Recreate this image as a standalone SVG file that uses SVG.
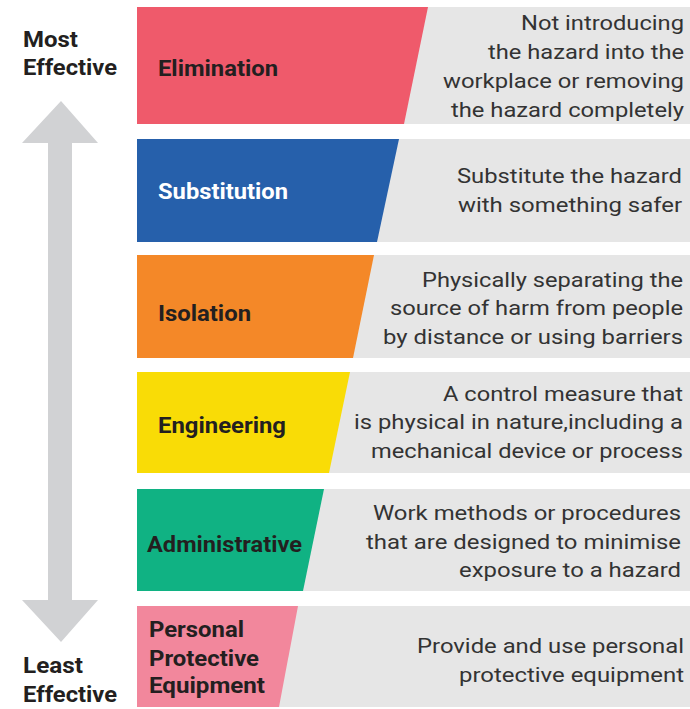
<svg xmlns="http://www.w3.org/2000/svg" width="690" height="709" viewBox="0 0 690 709">
<style>
.bg{fill:#e6e6e6}
.lbl{font-family:Roboto,"Liberation Sans",sans-serif;font-weight:bold;font-size:22px;fill:#231f20}
.desc{font-family:Roboto,"Liberation Sans",sans-serif;font-size:21px;fill:#333}
.side{font-family:Roboto,"Liberation Sans",sans-serif;font-weight:bold;font-size:22px;fill:#231f20}
</style>
<rect width="690" height="709" fill="#fff"/>
<g id="arrow">
<path d="M61,101 L98,143 L72,143 L72,600 L98,600 L61,642 L22,600 L48,600 L48,143 L22,143 Z" fill="#d1d2d4"/>
</g>
<g id="side-labels">
<text class="side" x="23" y="47" textLength="55" lengthAdjust="spacingAndGlyphs">Most</text>
<text class="side" x="23" y="75" textLength="94" lengthAdjust="spacingAndGlyphs">Effective</text>
<text class="side" x="23" y="673" textLength="60" lengthAdjust="spacingAndGlyphs">Least</text>
<text class="side" x="23" y="702" textLength="94" lengthAdjust="spacingAndGlyphs">Effective</text>
</g>
<g id="elimination">
<rect class="bg" x="137" y="7" width="553" height="117"/>
<polygon points="137,7 428,7 404,124 137,124" fill="#ef5a6b"/>
<text class="lbl" x="158" y="76" textLength="120" lengthAdjust="spacingAndGlyphs">Elimination</text>
<text class="desc" x="521" y="30" textLength="163" lengthAdjust="spacingAndGlyphs">Not introducing</text>
<text class="desc" x="488" y="59" textLength="196" lengthAdjust="spacingAndGlyphs">the hazard into the</text>
<text class="desc" x="443" y="88" textLength="241" lengthAdjust="spacingAndGlyphs">workplace or removing</text>
<text class="desc" x="451" y="117" textLength="233" lengthAdjust="spacingAndGlyphs">the hazard completely</text>
</g>
<g id="substitution">
<rect class="bg" x="137" y="139" width="553" height="103"/>
<polygon points="137,139 399,139 377,242 137,242" fill="#2660ab"/>
<text class="lbl" x="158" y="199" style="fill:#fff" textLength="130" lengthAdjust="spacingAndGlyphs">Substitution</text>
<text class="desc" x="457" y="183" textLength="225" lengthAdjust="spacingAndGlyphs">Substitute the hazard</text>
<text class="desc" x="458" y="212" textLength="224" lengthAdjust="spacingAndGlyphs">with something safer</text>
</g>
<g id="isolation">
<rect class="bg" x="137" y="255" width="553" height="103"/>
<polygon points="137,255 374,255 353,358 137,358" fill="#f48828"/>
<text class="lbl" x="158" y="321" textLength="93" lengthAdjust="spacingAndGlyphs">Isolation</text>
<text class="desc" x="422" y="287" textLength="261" lengthAdjust="spacingAndGlyphs">Physically separating the</text>
<text class="desc" x="390" y="315" textLength="293" lengthAdjust="spacingAndGlyphs">source of harm from people</text>
<text class="desc" x="383" y="344" textLength="300" lengthAdjust="spacingAndGlyphs">by distance or using barriers</text>
</g>
<g id="engineering">
<rect class="bg" x="137" y="372" width="553" height="101"/>
<polygon points="137,372 350,372 329,473 137,473" fill="#f9dc06"/>
<text class="lbl" x="158" y="433" textLength="128" lengthAdjust="spacingAndGlyphs">Engineering</text>
<text class="desc" x="443" y="401" textLength="240" lengthAdjust="spacingAndGlyphs">A control measure that</text>
<text class="desc" x="354" y="429" textLength="329" lengthAdjust="spacingAndGlyphs">is physical in nature,including a</text>
<text class="desc" x="371" y="458" textLength="312" lengthAdjust="spacingAndGlyphs">mechanical device or process</text>
</g>
<g id="administrative">
<rect class="bg" x="137" y="489" width="553" height="102"/>
<polygon points="137,489 324,489 303,591 137,591" fill="#10b283"/>
<text class="lbl" x="147" y="552" textLength="155" lengthAdjust="spacingAndGlyphs">Administrative</text>
<text class="desc" x="373" y="520" textLength="308" lengthAdjust="spacingAndGlyphs">Work methods or procedures</text>
<text class="desc" x="366" y="549" textLength="315" lengthAdjust="spacingAndGlyphs">that are designed to minimise</text>
<text class="desc" x="459" y="577" textLength="222" lengthAdjust="spacingAndGlyphs">exposure to a hazard</text>
</g>
<g id="ppe">
<rect class="bg" x="137" y="606" width="553" height="101"/>
<polygon points="137,606 298,606 279,707 137,707" fill="#f2879c"/>
<text class="lbl" x="149" y="637" textLength="95" lengthAdjust="spacingAndGlyphs">Personal</text>
<text class="lbl" x="149" y="666" textLength="110" lengthAdjust="spacingAndGlyphs">Protective</text>
<text class="lbl" x="149" y="693" textLength="116" lengthAdjust="spacingAndGlyphs">Equipment</text>
<text class="desc" x="417" y="653" textLength="267" lengthAdjust="spacingAndGlyphs">Provide and use personal</text>
<text class="desc" x="459" y="682" textLength="225" lengthAdjust="spacingAndGlyphs">protective equipment</text>
</g>
<g id="connectors"></g>
</svg>
